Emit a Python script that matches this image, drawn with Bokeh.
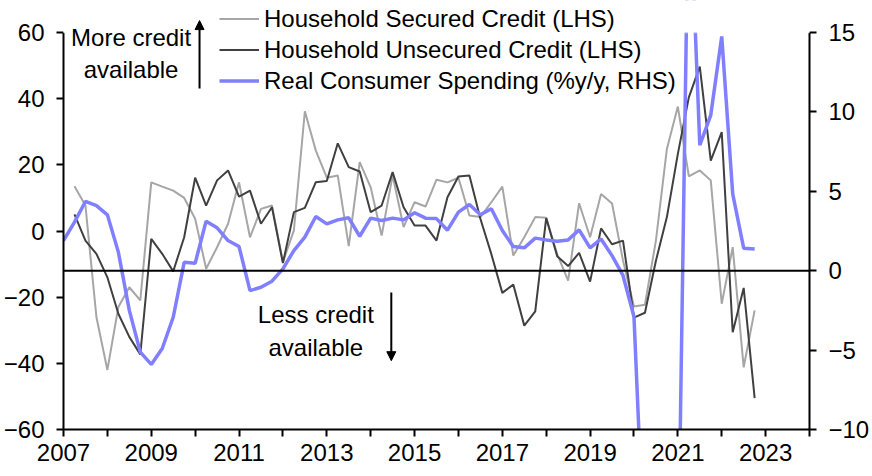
from bokeh.plotting import figure
from bokeh.models import (Range1d, LinearAxis, FixedTicker, Span, Legend, LegendItem,
                          Label, Arrow, NormalHead, ColumnDataSource, BoxAnnotation)
from bokeh.embed import file_html
from bokeh.resources import INLINE

# ---------------- data (quarterly) ----------------
spending_start = 2007.0   # Q1 2007
credit_start = 2007.25    # Q2 2007

consumer_spending = [1.9, 3.06, 4.36, 4.1, 3.52, 1.17, -2.5, -5.13, -5.9, -4.9, -2.93, 0.53,
                     0.47, 3.12, 2.7, 1.9, 1.52, -1.25, -1.04, -0.66, 0.12, 1.27, 2.11, 3.41,
                     2.95, 3.2, 3.33, 2.17, 3.31, 3.16, 3.31, 3.2, 3.65, 3.31, 3.28, 2.55,
                     3.69, 4.17, 3.52, 3.9, 2.53, 1.52, 1.44, 2.05, 1.94, 1.86, 1.94, 2.57,
                     1.44, 2.0, 0.95, -0.3, -2.9, -19.0, -13.0, -12.0, -20.0, 25.5, 7.9, 9.8,
                     14.75, 4.84, 1.42, 1.36]

secured_credit = [13.5, 7.7, -26.0, -42.0, -23.0, -17.0, -21.0, 14.7, 13.4, 12.2, 10.0, 3.7,
                  -11.4, -4.9, 2.2, 14.7, -1.9, 6.7, 7.7, -9.4, 0.2, 36.2, 24.3, 16.1,
                  16.8, -4.6, 20.8, 13.2, -1.4, 16.8, 1.2, 8.7, 7.4, 15.5, 14.7, 16.1,
                  4.7, 4.2, 8.7, 13.4, -7.4, -1.9, 4.2, 4.0, -7.0, -15.0, 8.4, -1.9,
                  11.2, 8.3, -8.9, -22.8, -22.3, -2.9, 24.8, 37.6, 16.5, 18.3, 15.3, -22.0,
                  -4.9, -41.2, -24.0]

unsecured_credit = [5.0, -2.9, -6.9, -14.0, -25.0, -32.0, -37.3, -2.4, -6.9, -12.2, -1.9, 16.1,
                    7.7, 15.3, 18.3, 10.4, 12.2, 2.2, 7.2, -9.7, 5.7, 7.0, 14.75, 15.1,
                    26.5, 19.3, 18.0, 5.7, 7.7, 17.8, 7.2, 1.65, 1.65, -2.9, 10.2, 16.5,
                    16.8, 3.7, -7.0, -18.7, -16.2, -28.6, -24.3, 3.9, -7.6, -10.6, -6.6, -15.3,
                    0.8, -4.0, -2.9, -26.2, -24.7, -9.0, 4.2, 23.3, 40.4, 49.7, 21.3, 29.9,
                    -30.6, -17.2, -50.5]

year_ticks = list(range(2007, 2025))
left_ticks = [-60, -40, -20, 0, 20, 40, 60]
right_ticks = [-10, -5, 0, 5, 10, 15]
left_bounds = (-60, 60)
right_bounds = (-10, 15)
rhs_zero = 0

series_names = ["Household Secured Credit (LHS)",
                "Household Unsecured Credit (LHS)",
                "Real Consumer Spending (%y/y, RHS)"]

x_spend = [spending_start + i * 0.25 for i in range(len(consumer_spending))]
x_credit = [credit_start + i * 0.25 for i in range(len(secured_credit))]

FONT = "Liberation Sans"
FS = "24px"

# frame extends to the top of the canvas; the axes stop at their bounds and a white
# mask hides anything above the top bound (where the legend and notes sit)
TOP_PAD = 32
FRAME_H = 397
left_top = left_bounds[1] + TOP_PAD * (left_bounds[1] - left_bounds[0]) / FRAME_H
right_top = right_bounds[1] + TOP_PAD * (right_bounds[1] - right_bounds[0]) / FRAME_H

p = figure(width=872, height=476, output_backend="svg", toolbar_location=None,
           x_range=Range1d(2007, 2024), y_range=Range1d(left_bounds[0], left_top),
           min_border_left=61, min_border_right=61, min_border_top=0, min_border_bottom=47)
p.extra_y_ranges = {"right": Range1d(right_bounds[0], right_top)}
p.outline_line_color = None
p.xgrid.visible = False
p.ygrid.visible = False
p.background_fill_color = "white"
p.border_fill_color = "white"

def style_axis(ax, standoff):
    ax.axis_line_color = "black"
    ax.axis_line_width = 2
    ax.major_tick_line_color = "black"
    ax.major_tick_line_width = 2
    ax.major_tick_out = 7
    ax.major_tick_in = 0
    ax.minor_tick_line_color = None
    ax.major_label_text_font = FONT
    ax.major_label_text_font_size = FS
    ax.major_label_text_color = "black"
    ax.major_label_standoff = standoff

# bottom axis
xa = p.xaxis[0]
xa.ticker = FixedTicker(ticks=year_ticks)
xa.major_label_overrides = {y: ("" if (y - 2007) % 2 else str(y)) for y in year_ticks}
style_axis(xa, 7)

# left axis
ya = p.yaxis[0]
ya.ticker = FixedTicker(ticks=left_ticks)
ya.bounds = left_bounds
style_axis(ya, 12)

# right axis
ra = LinearAxis(y_range_name="right", ticker=FixedTicker(ticks=right_ticks), bounds=right_bounds)
style_axis(ra, 12)
p.add_layout(ra, "right")

# zero line of RHS
p.add_layout(Span(location=rhs_zero, dimension="width", y_range_name="right",
                  line_color="black", line_width=2))

src_c = ColumnDataSource(dict(x=x_credit, sec=secured_credit, unsec=unsecured_credit))
src_s = ColumnDataSource(dict(x=x_spend, spend=consumer_spending))

r_sec = p.line("x", "sec", source=src_c, line_color="#A6A6A6", line_width=2)
r_uns = p.line("x", "unsec", source=src_c, line_color="#404040", line_width=2)
r_spd = p.line("x", "spend", source=src_s, line_color="#7F7FFF", line_width=3.5,
               y_range_name="right")

# white mask above the plotting area (clips lines at the top of the axes)
p.add_layout(BoxAnnotation(bottom=left_bounds[1], top=left_top + 40,
                           left=2006, right=2025,
                           fill_color="white", fill_alpha=1.0,
                           line_color="white", line_width=2, level="annotation"))

legend = Legend(items=[LegendItem(label=series_names[0], renderers=[r_sec]),
                       LegendItem(label=series_names[1], renderers=[r_uns]),
                       LegendItem(label=series_names[2], renderers=[r_spd])],
                location=(156, 334), orientation="vertical",
                label_text_font=FONT, label_text_font_size=FS, label_text_color="black",
                glyph_width=40, glyph_height=29, label_height=29, label_standoff=5,
                spacing=2, padding=0, margin=0, level="overlay",
                border_line_color=None, background_fill_alpha=0)
p.add_layout(legend)

# annotations
p.add_layout(Label(x=2008.54, y=62.7, text="More credit\navailable", text_align="center",
                   text_baseline="top", text_font=FONT, text_font_size=FS, text_color="black",
                   level="overlay"))
p.add_layout(Label(x=2012.75, y=-21.3, text="Less credit\navailable", text_align="center",
                   text_baseline="top", text_font=FONT, text_font_size=FS, text_color="black",
                   level="overlay"))
p.add_layout(Arrow(end=NormalHead(size=9, fill_color="black", line_color="black"),
                   x_start=2010.10, y_start=43.1, x_end=2010.10, y_end=63.6,
                   line_color="black", line_width=2, level="overlay"))
p.add_layout(Arrow(end=NormalHead(size=9, fill_color="black", line_color="black"),
                   x_start=2014.47, y_start=-18.6, x_end=2014.47, y_end=-39.2,
                   line_color="black", line_width=2, level="overlay"))

open("out.html", "w").write(file_html(p, INLINE))
